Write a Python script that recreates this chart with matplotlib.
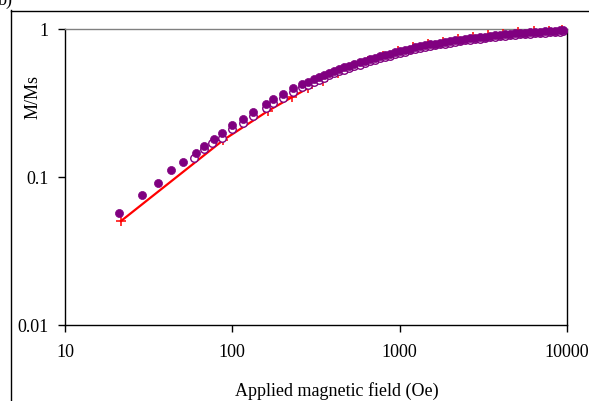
import matplotlib
matplotlib.use("Agg")
import matplotlib.pyplot as plt
from matplotlib.lines import Line2D

# ---- data ----
filled_field = [21.1, 29.0, 35.9, 43.2, 50.9, 60.4, 67.8, 78.0, 87.1, 99.2, 116.3, 133.5,
                159.0, 175.8, 201.8, 231.5, 259.9, 283.5,
                309.0, 331.1, 354.8, 380.2, 407.4, 436.5, 467.7, 501.2, 537.0, 575.4,
                616.6, 660.7, 707.9, 758.6, 812.8, 871.0, 933.3, 1000, 1071.5, 1148.2,
                1230.3, 1318.3, 1412.5, 1513.6, 1621.8, 1737.8, 1862.1, 1995.3, 2138.0,
                2290.9, 2454.7, 2630.3, 2818.4, 3020, 3236, 3467, 3715, 3981, 4266,
                4571, 4898, 5248, 5623, 6026, 6457, 6918, 7413, 7943, 8511, 9120, 9440]
filled_m = [0.0568, 0.0756, 0.0906, 0.1115, 0.127, 0.1446, 0.162, 0.1806, 0.197, 0.2246,
            0.2454, 0.2737, 0.310, 0.336, 0.362, 0.3975, 0.425, 0.4405,
            0.4585, 0.4736, 0.4891, 0.5051, 0.5216, 0.5387, 0.5526, 0.5662, 0.5802,
            0.5945, 0.6092, 0.6243, 0.6397, 0.6555, 0.6686, 0.6817, 0.6952, 0.7089,
            0.7228, 0.7371, 0.7516, 0.7663, 0.7766, 0.7863, 0.7962, 0.8062, 0.8164,
            0.8267, 0.8372, 0.8477, 0.8583, 0.8690, 0.8759, 0.8829, 0.8898, 0.8968,
            0.9039, 0.9110, 0.9181, 0.9253, 0.9325, 0.9397, 0.9449, 0.9500, 0.9552,
            0.9605, 0.9656, 0.9710, 0.9761, 0.9815, 0.985]

open_field = [59.2, 68.0, 75.6, 87.1, 99.2, 116.3, 133.5, 159.0, 175.8, 201.8, 231.5,
              259.9, 283.5,
              309.0, 331.1, 354.8, 380.2, 407.4, 436.5, 467.7, 501.2, 537.0, 575.4,
              616.6, 660.7, 707.9, 758.6, 812.8, 871.0, 933.3, 1000, 1071.5, 1148.2,
              1230.3, 1318.3, 1412.5, 1513.6, 1621.8, 1737.8, 1862.1, 1995.3, 2138.0,
              2290.9, 2454.7, 2630.3, 2818.4, 3020, 3236, 3467, 3715, 3981, 4266,
              4571, 4898, 5248, 5623, 6026, 6457, 6918, 7413, 7943, 8511, 9120, 9440]
open_m = [0.1350, 0.1546, 0.1705, 0.184, 0.210, 0.230, 0.257, 0.291, 0.316, 0.341,
          0.375, 0.403, 0.419,
          0.440, 0.455, 0.470, 0.486, 0.502, 0.518, 0.532, 0.546, 0.560, 0.574,
          0.589, 0.604, 0.619, 0.634, 0.647, 0.660, 0.673, 0.690, 0.703, 0.717,
          0.732, 0.746, 0.757, 0.766, 0.776, 0.786, 0.796, 0.806, 0.817, 0.827,
          0.838, 0.848, 0.855, 0.862, 0.870, 0.877, 0.884, 0.891, 0.898, 0.905,
          0.912, 0.919, 0.924, 0.929, 0.934, 0.939, 0.944, 0.949, 0.954, 0.959, 0.963]

red_field = [21.6, 88.4, 164.1, 226.5, 282.3, 346.7, 426.6, 524.8, 645.7, 794.3, 977.2,
             1202, 1479, 1820, 2239, 2754, 3388, 4169, 5129, 6310, 7762, 9333]
red_m = [0.0504, 0.1778, 0.2805, 0.3455, 0.3975, 0.4484, 0.5067, 0.5585, 0.6107, 0.6613,
         0.7074, 0.7555, 0.7921, 0.8223, 0.8537, 0.8839, 0.9049, 0.9262, 0.9471, 0.9623,
         0.9759, 0.9901]

x_ticks = [10, 100, 1000, 10000]
x_tick_labels = ["10", "100", "1000", "10000"]
y_ticks = [0.01, 0.1, 1]
y_tick_labels = ["0.01", "0.1", "1"]

# ---- figure ----
W, H = 589, 401
fig = plt.figure(figsize=(W / 100, H / 100), dpi=100)
plt.rcParams['font.family'] = ['Liberation Serif', 'DejaVu Serif']

ax = fig.add_axes([65 / W, (H - 325) / H, (567 - 65) / W, (325 - 29) / H])
ax.set_xscale('log')
ax.set_yscale('log')
ax.set_xlim(10, 10000)
ax.set_ylim(0.01, 1)

ax.plot(red_field, red_m, color='#FF0000', lw=1.6, marker='+', ms=7, mew=1.1,
        clip_on=False, zorder=3)
ax.plot(open_field, open_m, ls='none', marker='o', ms=5.4, mfc='white', mec='#800080',
        mew=1.0, clip_on=False, zorder=4)
ax.plot(filled_field, filled_m, ls='none', marker='o', ms=5.8, mfc='#800080',
        mec='#800080', mew=0.5, clip_on=False, zorder=5)

ax.set_xticks(x_ticks)
ax.set_xticklabels(x_tick_labels)
ax.set_yticks(y_ticks)
ax.set_yticklabels(y_tick_labels)
ax.minorticks_off()
ax.tick_params(axis='both', which='major', direction='out', length=5, width=1,
               color='black', labelsize=13)
ax.tick_params(axis='x', pad=9)
ax.tick_params(axis='y', pad=7)

for s in ['left', 'bottom', 'right']:
    ax.spines[s].set_color('black')
    ax.spines[s].set_linewidth(1.0)
ax.spines['top'].set_color('#808080')
ax.spines['top'].set_linewidth(1.0)

ax.set_xlabel("Applied magnetic field (Oe)", fontsize=13)
ax.xaxis.set_label_coords((337 - 65) / 502, -(391 - 325) / 296)
ax.xaxis.label.set_va('center')
ax.set_ylabel("M/Ms", fontsize=13)
ax.yaxis.set_label_coords(-(65 - 33) / 502, (325 - 97) / 296)
ax.yaxis.label.set_va('center')

# outer chart-area frame (cropped at right and bottom)
fig.add_artist(Line2D([10.5 / W, 10.5 / W], [0, (H - 10) / H], transform=fig.transFigure,
                      color='black', lw=1.0))
fig.add_artist(Line2D([10.5 / W, 1.0], [(H - 10.5) / H, (H - 10.5) / H],
                      transform=fig.transFigure, color='black', lw=1.0))
fig.text(-2 / W, (H - 5) / H, "b)", fontsize=13, va='baseline', ha='left')

fig.savefig("out.png", dpi=100)
